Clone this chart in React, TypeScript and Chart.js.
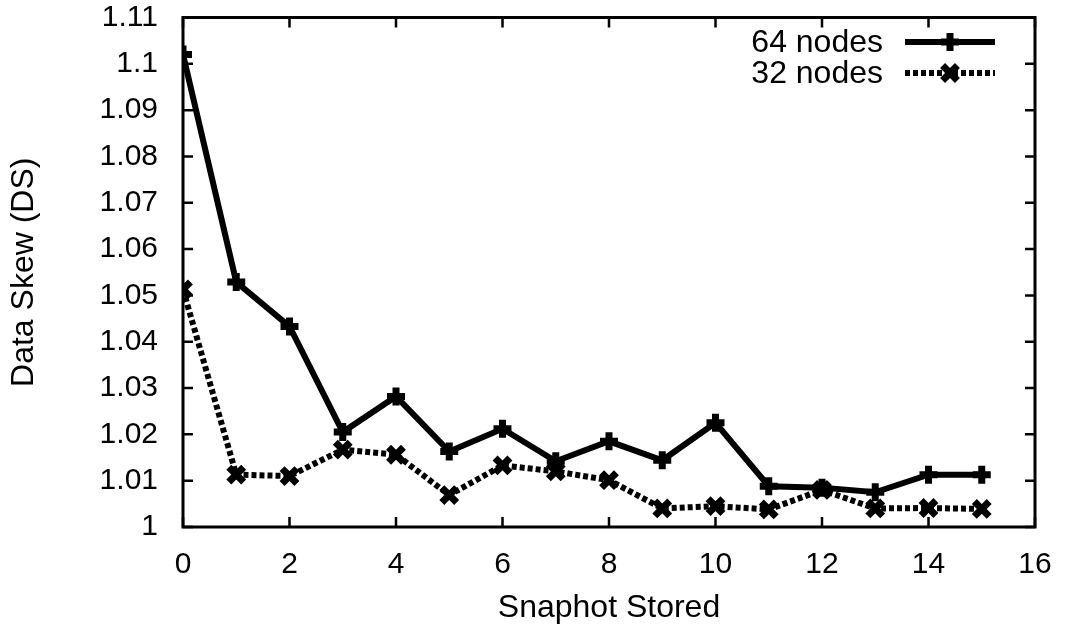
import React, { useEffect, useRef } from "react";
import { Chart, registerables } from "chart.js";

Chart.register(...registerables);

const snapshots = [0, 1, 2, 3, 4, 5, 6, 7, 8, 9, 10, 11, 12, 13, 14, 15];
const nodes64 = [1.102, 1.0529, 1.0433, 1.0205, 1.0282, 1.0163, 1.0212, 1.0142, 1.0185, 1.0144, 1.0225, 1.0088, 1.0085, 1.0075, 1.0113, 1.0113];
const nodes32 = [1.0513, 1.0113, 1.011, 1.0167, 1.0156, 1.0069, 1.0133, 1.012, 1.0101, 1.004, 1.0045, 1.0038, 1.008, 1.004, 1.0041, 1.0039];
const seriesLabels = ["64 nodes", "32 nodes"];
const xTicks = [0, 2, 4, 6, 8, 10, 12, 14, 16];
const yTicks = [1, 1.01, 1.02, 1.03, 1.04, 1.05, 1.06, 1.07, 1.08, 1.09, 1.1, 1.11];
const xTitle = "Snaphot Stored";
const yTitle = "Data Skew (DS)";

const FONT = "'Liberation Sans', Arial, Helvetica, sans-serif";
const TICK_FS = 30;
const TEXT_FS = 32;

function drawMarker(ctx: CanvasRenderingContext2D, style: string, x: number, y: number, r: number, lw: number) {
  ctx.save();
  ctx.setLineDash([]);
  ctx.lineWidth = lw;
  ctx.strokeStyle = "#000";
  ctx.beginPath();
  if (style === "cross") {
    ctx.moveTo(x - r, y); ctx.lineTo(x + r, y);
    ctx.moveTo(x, y - r); ctx.lineTo(x, y + r);
  } else {
    const d = r * Math.SQRT1_2;
    ctx.moveTo(x - d, y - d); ctx.lineTo(x + d, y + d);
    ctx.moveTo(x - d, y + d); ctx.lineTo(x + d, y - d);
  }
  ctx.stroke();
  ctx.restore();
}

const framePlugin = {
  id: "gnuFrame",
  beforeDatasetsDraw(chart: any) {
    const { ctx, chartArea: a, scales } = chart;
    ctx.save();
    ctx.strokeStyle = "#000";
    ctx.lineWidth = 3;
    ctx.strokeRect(a.left, a.top, a.right - a.left, a.bottom - a.top);
    ctx.lineWidth = 2.5;
    const L = 10;
    ctx.beginPath();
    for (const v of xTicks) {
      const px = scales.x.getPixelForValue(v);
      ctx.moveTo(px, a.bottom); ctx.lineTo(px, a.bottom - L);
      ctx.moveTo(px, a.top); ctx.lineTo(px, a.top + L);
    }
    for (const v of yTicks) {
      const py = scales.y.getPixelForValue(v);
      ctx.moveTo(a.left, py); ctx.lineTo(a.left + L, py);
      ctx.moveTo(a.right, py); ctx.lineTo(a.right - L, py);
    }
    ctx.stroke();
    ctx.restore();
  },
  afterDatasetsDraw(chart: any) {
    const { ctx } = chart;
    const textRight = 883;
    const x0 = 905, x1 = 995, xm = 950;
    chart.data.datasets.forEach((ds: any, i: number) => {
      const y = 42 + i * 31;
      ctx.save();
      ctx.fillStyle = "#000";
      ctx.font = `${TEXT_FS}px ${FONT}`;
      ctx.textAlign = "right";
      ctx.textBaseline = "middle";
      ctx.fillText(ds.label, textRight, y + 1);
      ctx.strokeStyle = "#000";
      ctx.lineWidth = ds.borderWidth;
      ctx.lineCap = "butt";
      ctx.setLineDash(ds.borderDash || []);
      ctx.beginPath();
      ctx.moveTo(x0, y); ctx.lineTo(x1, y);
      ctx.stroke();
      ctx.restore();
      drawMarker(ctx, ds.pointStyle, xm, y, ds.pointRadius, ds.pointBorderWidth);
    });
  },
};

const fmt = (v: number) => String(parseFloat(Number(v).toFixed(2)));

const noPad = (s: any) => {
  s.paddingTop = 0;
  s.paddingBottom = 0;
  s.paddingLeft = 0;
  s.paddingRight = 0;
};

export default function App() {
  const ref = useRef<HTMLCanvasElement | null>(null);
  useEffect(() => {
    if (!ref.current) return;
    const chart = new Chart(ref.current, {
      type: "line",
      data: {
        datasets: [
          {
            label: seriesLabels[0],
            data: snapshots.map((x, i) => ({ x, y: nodes64[i] })),
            borderColor: "#000",
            backgroundColor: "#000",
            borderWidth: 6,
            pointStyle: "cross",
            pointRadius: 9,
            pointBorderWidth: 7,
            pointBorderColor: "#000",
            tension: 0,
          },
          {
            label: seriesLabels[1],
            data: snapshots.map((x, i) => ({ x, y: nodes32[i] })),
            borderColor: "#000",
            backgroundColor: "#000",
            borderWidth: 6,
            borderDash: [5, 3],
            pointStyle: "crossRot",
            pointRadius: 10.5,
            pointBorderWidth: 7,
            pointBorderColor: "#000",
            tension: 0,
          },
        ] as any,
      },
      options: {
        responsive: false,
        animation: false,
        events: [],
        layout: { padding: { left: 0, right: 31, top: 15, bottom: 0 } },
        plugins: { legend: { display: false }, tooltip: { enabled: false } },
        scales: {
          x: {
            type: "linear",
            min: 0,
            max: 16,
            grid: { display: false, drawTicks: false },
            border: { display: false },
            afterBuildTicks: (s: any) => { s.ticks = xTicks.map((v) => ({ value: v })); },
            afterFit: (s: any) => { s.height = 105; noPad(s); },
            ticks: { color: "#000", font: { size: TICK_FS, family: FONT }, padding: 20, maxRotation: 0, autoSkip: false, callback: (v: any) => fmt(v) },
            title: { display: true, text: xTitle, color: "#000", font: { size: TEXT_FS, family: FONT }, padding: { top: 0, bottom: 5 } },
          },
          y: {
            type: "linear",
            min: 1,
            max: 1.11,
            grid: { display: false, drawTicks: false },
            border: { display: false },
            afterBuildTicks: (s: any) => { s.ticks = yTicks.map((v) => ({ value: v })); },
            afterFit: (s: any) => { s.width = 183; noPad(s); },
            ticks: { color: "#000", font: { size: TICK_FS, family: FONT }, padding: 25, autoSkip: false, callback: (v: any) => fmt(v) },
            title: { display: true, text: yTitle, color: "#000", font: { size: TEXT_FS, family: FONT }, padding: { top: 5, bottom: 0 } },
          },
        },
      },
      plugins: [framePlugin],
    });
    return () => chart.destroy();
  }, []);
  return (
    <div style={{ position: "fixed", left: 0, top: 0, width: 1066, height: 632, background: "#fff" }}>
      <canvas ref={ref} width={1066} height={632} style={{ display: "block" }} />
    </div>
  );
}
